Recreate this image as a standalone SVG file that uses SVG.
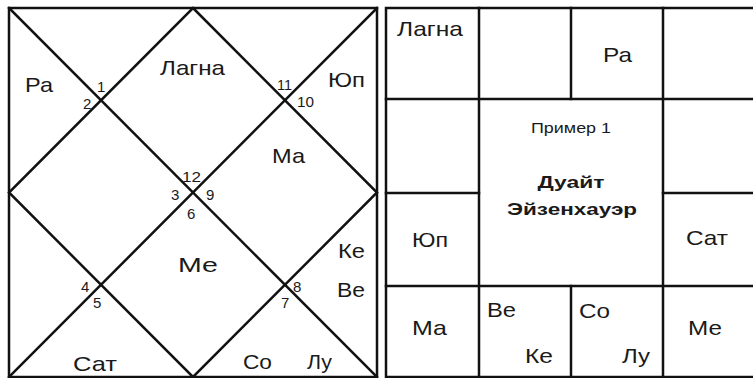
<svg xmlns="http://www.w3.org/2000/svg" width="753" height="378" viewBox="0 0 753 378">
<style>
.ln{stroke:#111;stroke-width:2.5;fill:none;stroke-linecap:square}
.t{font-family:"Liberation Sans",Arial,sans-serif;font-size:21px;fill:#1a1a1a}
.n{font-family:"Liberation Sans",Arial,sans-serif;font-size:15px;fill:#1a1a1a}
.s{font-family:"Liberation Sans",Arial,sans-serif;font-size:14px;fill:#1a1a1a}
.b{font-family:"Liberation Sans",Arial,sans-serif;font-size:17px;font-weight:bold;fill:#1a1a1a}
</style>
<rect width="753" height="378" fill="#fff"/>
<g id="north-chart">
  <g id="north-lines">
    <rect class="ln" x="9" y="8" width="368" height="369"/>
    <line class="ln" x1="9" y1="8" x2="377" y2="377"/>
    <line class="ln" x1="377" y1="8" x2="9" y2="377"/>
    <polygon class="ln" points="193,8 377,192.5 193,377 9,192.5"/>
  </g>
  <g id="north-numbers">
    <text class="n" x="97" y="92">1</text>
    <text class="n" x="83" y="109">2</text>
    <text class="n" x="171" y="200">3</text>
    <text class="n" x="81" y="292">4</text>
    <text class="n" x="93" y="308">5</text>
    <text class="n" x="187" y="219">6</text>
    <text class="n" x="281" y="308">7</text>
    <text class="n" x="293" y="292">8</text>
    <text class="n" x="206" y="200">9</text>
    <text class="n" x="297" y="107" textLength="17" lengthAdjust="spacingAndGlyphs">10</text>
    <text class="n" x="277" y="90" textLength="15" lengthAdjust="spacingAndGlyphs">11</text>
    <text class="n" x="182" y="182" textLength="19" lengthAdjust="spacingAndGlyphs">12</text>
  </g>
  <g id="north-planets">
    <text class="t" x="25" y="92" textLength="28" lengthAdjust="spacingAndGlyphs">Ра</text>
    <text class="t" x="160" y="75" textLength="65" lengthAdjust="spacingAndGlyphs">Лагна</text>
    <text class="t" x="328" y="87" textLength="37" lengthAdjust="spacingAndGlyphs">Юп</text>
    <text class="t" x="272" y="163" textLength="33" lengthAdjust="spacingAndGlyphs">Ма</text>
    <text class="t" x="178" y="272" textLength="40" lengthAdjust="spacingAndGlyphs">Ме</text>
    <text class="t" x="338" y="258" textLength="27" lengthAdjust="spacingAndGlyphs">Ке</text>
    <text class="t" x="337" y="297" textLength="28" lengthAdjust="spacingAndGlyphs">Ве</text>
    <text class="t" x="73" y="371" textLength="44" lengthAdjust="spacingAndGlyphs">Сат</text>
    <text class="t" x="243" y="369" textLength="29" lengthAdjust="spacingAndGlyphs">Со</text>
    <text class="t" x="307" y="369" textLength="25" lengthAdjust="spacingAndGlyphs">Лу</text>
  </g>
</g>
<g id="south-chart">
  <g id="south-lines">
    <rect class="ln" x="386" y="8" width="372" height="369"/>
    <line class="ln" x1="479" y1="8" x2="479" y2="377"/>
    <line class="ln" x1="663" y1="8" x2="663" y2="377"/>
    <line class="ln" x1="571" y1="8" x2="571" y2="99"/>
    <line class="ln" x1="571" y1="286" x2="571" y2="377"/>
    <line class="ln" x1="386" y1="99" x2="758" y2="99"/>
    <line class="ln" x1="386" y1="286" x2="758" y2="286"/>
    <line class="ln" x1="386" y1="193" x2="479" y2="193"/>
    <line class="ln" x1="663" y1="193" x2="758" y2="193"/>
  </g>
  <g id="cell-lagna"><text class="t" x="397" y="36" textLength="66" lengthAdjust="spacingAndGlyphs">Лагна</text></g>
  <g id="cell-ra"><text class="t" x="603" y="62" textLength="29" lengthAdjust="spacingAndGlyphs">Ра</text></g>
  <g id="cell-center">
    <text class="s" x="571" y="133" text-anchor="middle" textLength="80" lengthAdjust="spacingAndGlyphs">Пример 1</text>
    <text class="b" x="571" y="188" text-anchor="middle" textLength="67" lengthAdjust="spacingAndGlyphs">Дуайт</text>
    <text class="b" x="572" y="215" text-anchor="middle" textLength="130" lengthAdjust="spacingAndGlyphs">Эйзенхауэр</text>
  </g>
  <g id="cell-yup"><text class="t" x="412" y="247" textLength="36" lengthAdjust="spacingAndGlyphs">Юп</text></g>
  <g id="cell-sat"><text class="t" x="686" y="245" textLength="42" lengthAdjust="spacingAndGlyphs">Сат</text></g>
  <g id="cell-ma"><text class="t" x="412" y="335" textLength="35" lengthAdjust="spacingAndGlyphs">Ма</text></g>
  <g id="cell-ve-ke">
    <text class="t" x="487" y="317" textLength="29" lengthAdjust="spacingAndGlyphs">Ве</text>
    <text class="t" x="525" y="363" textLength="28" lengthAdjust="spacingAndGlyphs">Ке</text>
  </g>
  <g id="cell-so-lu">
    <text class="t" x="579" y="318" textLength="31" lengthAdjust="spacingAndGlyphs">Со</text>
    <text class="t" x="622" y="363" textLength="28" lengthAdjust="spacingAndGlyphs">Лу</text>
  </g>
  <g id="cell-me"><text class="t" x="688" y="335" textLength="34" lengthAdjust="spacingAndGlyphs">Ме</text></g>
</g>
</svg>
